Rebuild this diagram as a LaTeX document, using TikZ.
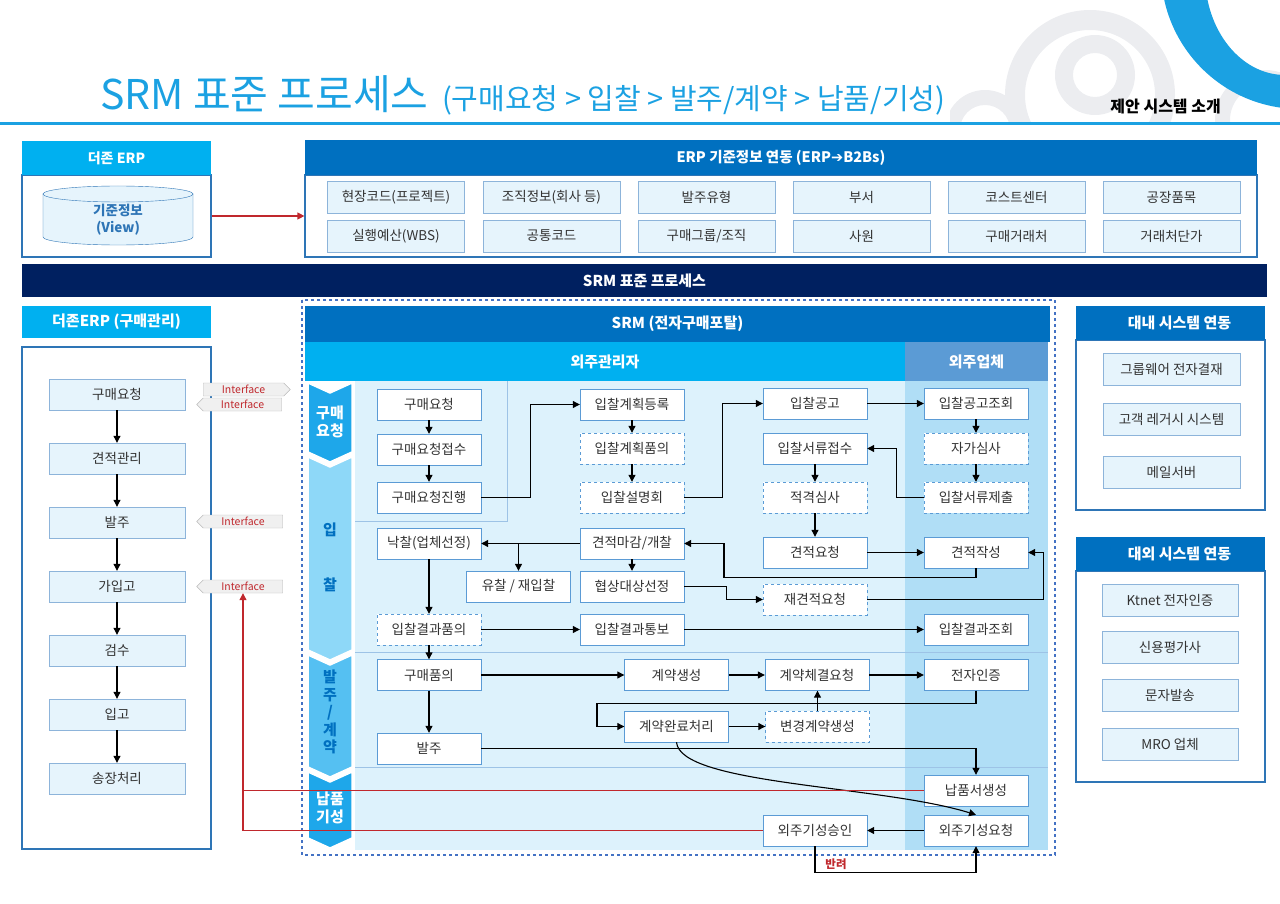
\documentclass[tikz,border=0pt]{standalone}
\usepackage{fontspec}
\setmainfont{Noto Sans CJK KR}
\newfontfamily\symfont{DejaVu Sans}
\usepackage{xcolor}
\usetikzlibrary{arrows.meta,shapes.symbols}

\definecolor{cyanhead}{HTML}{00B0F0}
\definecolor{bluehead}{HTML}{0070C0}
\definecolor{navybar}{HTML}{002060}
\definecolor{itemfill}{HTML}{E6F4FC}
\definecolor{itemline}{HTML}{8DB4DA}
\definecolor{boxline}{HTML}{2E75B6}
\definecolor{procline}{HTML}{5B9BD5}
\definecolor{portalline}{HTML}{4472C4}
\definecolor{lanebg}{HTML}{DDF2FC}
\definecolor{vendorbg}{HTML}{B0DEF6}
\definecolor{vendorhead}{HTML}{5B9BD5}
\definecolor{sepline}{HTML}{9DC3E6}
\definecolor{titleblue}{HTML}{1BA1E2}
\definecolor{linkred}{HTML}{C0282D}
\definecolor{textgray}{HTML}{333333}
\definecolor{stageA}{HTML}{1EA7EA}
\definecolor{stageB}{HTML}{8ED8F8}
\definecolor{stageC}{HTML}{55C0F2}
\definecolor{decogray}{HTML}{ECEDF0}

\begin{document}
\begin{tikzpicture}[x=1pt,y=-1pt,
    head/.style={inner sep=0, text=white, font=\bfseries\fontsize{14}{16}\selectfont},
    frame/.style={draw=boxline, line width=1.2pt, fill=white, inner sep=0},
    item/.style={draw=itemline, fill=itemfill, minimum width=137, minimum height=32, inner sep=0, text=textgray, font=\fontsize{13.5}{15}\selectfont},
    proc/.style={draw=procline, fill=white, minimum width=104, minimum height=31, inner sep=0, text=textgray, font=\fontsize{13.5}{15}\selectfont},
    procd/.style={proc, dashed},
    flow/.style={-{Triangle[length=7pt,width=7pt]}, line width=1.1pt},
    redline/.style={linkred, line width=1.2pt},
    redflow/.style={redline, -{Triangle[length=7pt,width=7pt]}},
    tag/.style={signal, draw=gray!55, fill=gray!12, minimum width=86, minimum height=13, inner sep=0, text=linkred, font=\fontsize{10.5}{11}\selectfont},
    stage/.style={font=\bfseries\fontsize{15}{17.5}\selectfont, align=center, inner sep=0}]
    % Page size
    \useasboundingbox (0,0) rectangle (1280,904);

    % Corner decoration
    \begin{scope}
        \clip (950,0) rectangle (1280,122);
        \fill[decogray, even odd rule] (1090,95) circle (85) (1090,95) circle (65);
        \fill[decogray, even odd rule] (1095,75) circle (40) (1095,75) circle (22);
        \fill[decogray, even odd rule] (1265,120) circle (50) (1265,120) circle (35);
        \fill[decogray, even odd rule] (985,130) circle (40) (985,130) circle (25);
        \fill[titleblue, even odd rule] (1300,-30) circle (139)
            (1285,-25) ellipse [x radius=80, y radius=100];
    \end{scope}

    % Title
    \node[anchor=base west, text=titleblue, font=\fontsize{41}{43}\selectfont, inner sep=0] (title) at (100,110) {SRM 표준 프로세스};
    \node[anchor=base west, text=titleblue, font=\fontsize{29}{31}\selectfont, inner sep=0] (subtitle) at ([xshift=13pt]title.base east) {(구매요청 > 입찰 > 발주/계약 > 납품/기성)};
    \node[anchor=base east, font=\bfseries\fontsize{16}{18}\selectfont, inner sep=0] (intro) at (1221,113) {제안 시스템 소개};
    \draw[titleblue, line width=3pt] (0,124) -- (1280,124);

    % ERP master data
    \node[frame, minimum width=189, minimum height=82] (erpbox) at (116.5,216) {};
    \node[head, fill=cyanhead, minimum width=189, minimum height=34] (erphead) at (116.5,158) {더존 ERP};
    \fill[itemfill] (43,194) -- (43,237) arc[start angle=180, end angle=0, x radius=75, y radius=8] -- (193,194) -- cycle;
    \draw[boxline] (43,194) -- (43,237) arc[start angle=180, end angle=0, x radius=75, y radius=8] -- (193,194);
    \draw[boxline, fill=itemfill] (118,194) ellipse [x radius=75, y radius=8];
    \node[text=boxline, font=\bfseries\fontsize{13.5}{17}\selectfont, align=center] (basis) at (118,220) {기준정보\\(View)};

    \node[frame, minimum width=952, minimum height=82] (infobox) at (781,216) {};
    \node[head, fill=bluehead, minimum width=952, minimum height=35, font=\bfseries\fontsize{14.5}{16}\selectfont] (infohead) at (781,157.5) {ERP 기준정보 연동 (ERP{\symfont ➔}B2Bs)};
    \node[item] (site) at (396,197) {현장코드(프로젝트)};
    \node[item] (org) at (551.5,197) {조직정보(회사 등)};
    \node[item] (potype) at (706.5,197) {발주유형};
    \node[item] (dept) at (861.5,197) {부서};
    \node[item] (cost) at (1016.5,197) {코스트센터};
    \node[item] (plant) at (1171.5,197) {공장품목};
    \node[item] (wbs) at (396,236) {실행예산(WBS)};
    \node[item] (code) at (551.5,236) {공통코드};
    \node[item] (group) at (706.5,236) {구매그룹/조직};
    \node[item] (staff) at (861.5,236) {사원};
    \node[item] (vendor) at (1016.5,236) {구매거래처};
    \node[item] (price) at (1171.5,236) {거래처단가};
    \draw[redflow] (erpbox.east) -- (infobox.west);

    % Process bar
    \node[head, fill=navybar, minimum width=1245, minimum height=33, font=\bfseries\fontsize{15}{17}\selectfont] (srmbar) at (644.5,280.5) {SRM 표준 프로세스};

    % Purchase management (ERP)
    \node[frame, minimum width=189, minimum height=502] (buybox) at (116.5,598) {};
    \node[head, fill=cyanhead, minimum width=189, minimum height=32, font=\bfseries\fontsize{15}{17}\selectfont] (buyhead) at (116.5,322) {더존ERP (구매관리)};
    \node[item, minimum width=136, minimum height=31] (b1) at (117,394.5) {구매요청};
    \node[item, minimum width=136, minimum height=31] (b2) at (117,458.5) {견적관리};
    \node[item, minimum width=136, minimum height=31] (b3) at (117,522.5) {발주};
    \node[item, minimum width=136, minimum height=31] (b4) at (117,586.5) {가입고};
    \node[item, minimum width=136, minimum height=31] (b5) at (117,650.5) {검수};
    \node[item, minimum width=136, minimum height=31] (b6) at (117,714.5) {입고};
    \node[item, minimum width=136, minimum height=31] (b7) at (117,778.5) {송장처리};
    \draw[flow] (b1) -- (b2);
    \draw[flow] (b2) -- (b3);
    \draw[flow] (b3) -- (b4);
    \draw[flow] (b4) -- (b5);
    \draw[flow] (b5) -- (b6);
    \draw[flow] (b6) -- (b7);

    % Interface tags
    \node[tag, signal to=east, minimum width=87] (if1) at (243.5,389.5) {Interface};
    \node[tag, signal to=west, minimum width=85] (if2) at (242.5,404.5) {Interface};
    \node[tag, signal to=west] (if3) at (243,521.5) {Interface};
    \node[tag, signal to=west] (if4) at (243,586.5) {Interface};

    % SRM portal frame and lanes
    \draw[portalline, dashed, line width=1.5pt] (302,300) rectangle (1055,855);
    \node[head, fill=bluehead, minimum width=745, minimum height=36, font=\bfseries\fontsize{15}{17}\selectfont] (srmhead) at (677.5,324) {SRM (전자구매포탈)};
    \node[head, fill=cyanhead, minimum width=600, minimum height=39, font=\bfseries\fontsize{15}{17}\selectfont] (mgrhead) at (605,361.5) {외주관리자};
    \node[head, fill=vendorhead, minimum width=143, minimum height=39, font=\bfseries\fontsize{15}{17}\selectfont] (venhead) at (976.5,361.5) {외주업체};
    \fill[lanebg] (355,381) rectangle (905,850);
    \fill[vendorbg] (905,381) rectangle (1048,850);
    \draw[sepline] (355,521) -- (507,521) -- (507,381);
    \draw[sepline] (355,652) -- (1048,652);
    \draw[sepline] (355,767) -- (1048,767);

    % Stage chevrons
    \foreach \ytop/\ybot/\col in {383/452/stageA, 457/650/stageB, 655/767/stageC, 772/838/stageA}
        \fill[\col, draw=white, line width=1.5pt] (308,\ytop) -- (330,\ytop+10) -- (352,\ytop)
            -- (352,\ybot) -- (330,\ybot+10) -- (308,\ybot) -- cycle;
    \node[stage, text=white] (stbuy) at (330,422) {구매\\요청};
    \node[stage, text=bluehead] (stbidA) at (330,530) {입};
    \node[stage, text=bluehead] (stbidB) at (330,585) {찰};
    \node[stage, text=bluehead] (stpo) at (330,712) {발\\주\\/\\계\\약};
    \node[stage, text=white] (stdlv) at (330,808) {납품\\기성};

    % Manager side
    \node[proc] (pr1) at (429,404.5) {구매요청};
    \node[proc] (pr2) at (429,449.5) {구매요청접수};
    \node[proc] (pr3) at (429,497.5) {구매요청진행};
    \node[proc] (win) at (429,543.5) {낙찰(업체선정)};
    \node[procd] (resapv) at (429,629.5) {입찰결과품의};
    \node[proc] (buyapv) at (429,675) {구매품의};
    \node[proc] (po) at (429,748.5) {발주};
    \node[proc] (bp1) at (632,404.5) {입찰계획등록};
    \node[procd] (bp2) at (632,448.5) {입찰계획품의};
    \node[procd] (bp3) at (632,497.5) {입찰설명회};
    \node[proc] (open) at (632,543.5) {견적마감/개찰};
    \node[proc] (nego) at (632,586.5) {협상대상선정};
    \node[proc] (resnote) at (632,629.5) {입찰결과통보};
    \node[proc] (fail) at (518.5,586.5) {유찰 / 재입찰};
    \node[proc] (ann) at (815,403.5) {입찰공고};
    \node[proc] (doc) at (815,448.5) {입찰서류접수};
    \node[procd] (qual) at (815,497.5) {적격심사};
    \node[proc] (rfq) at (815,552.5) {견적요청};
    \node[procd] (rerfq) at (815,599.5) {재견적요청};
    \node[proc] (cgen) at (676.5,675) {계약생성};
    \node[proc] (creq) at (817,675) {계약체결요청};
    \node[proc] (cdone) at (676.5,726.5) {계약완료처리};
    \node[procd] (cchg) at (817.5,726.5) {변경계약생성};
    \node[proc] (aprv) at (815,830.5) {외주기성승인};

    % Vendor side
    \node[proc] (vann) at (976,403.5) {입찰공고조회};
    \node[procd] (self) at (976,448.5) {자가심사};
    \node[procd] (vdoc) at (976,497.5) {입찰서류제출};
    \node[proc] (quote) at (976,552.5) {견적작성};
    \node[proc] (vres) at (976,629.5) {입찰결과조회};
    \node[proc] (cert) at (976,675) {전자인증};
    \node[proc] (dlv) at (976,790.5) {납품서생성};
    \node[proc] (vreq) at (976,830.5) {외주기성요청};

    % Request and bidding flow
    \draw[flow] (pr1) -- (pr2);
    \draw[flow] (pr2) -- (pr3);
    \draw[flow] (pr3.east) -- ++(49,0) |- (bp1.west);
    \draw[flow] (bp1) -- (bp2);
    \draw[flow] (bp2) -- (bp3);
    \draw[flow] (bp3.east) -- ++(38,0) |- (ann.west);
    \draw[flow] (ann) -- (vann);
    \draw[flow] (vann) -- (self);
    \draw[flow] (self) -- (vdoc);
    \draw[flow] (vdoc.west) -- ++(-27,0) |- (doc.east);
    \draw[flow] (doc) -- (qual);
    \draw[flow] (qual) -- (rfq);
    \draw[flow] (rfq) -- (quote);
    \draw[flow] (quote.south) -- ++(0,9) -- ++(-252,0) |- (open.east);
    \draw[flow] (open) -- (win);
    \draw[flow] (open.west -| fail.north) -- (fail.north);
    \draw[flow] (open) -- (nego);
    \draw[flow] (nego.east) -- ++(42,0) |- (rerfq.west);
    \draw[flow] (rerfq.east) -- ++(176,0) |- (quote.east);
    \draw[flow] (win) -- (resapv);
    \draw[flow] (resapv) -- (resnote);
    \draw[flow] (resnote) -- (vres);

    % Contract flow
    \draw[flow] (resapv) -- (buyapv);
    \draw[flow] (buyapv) -- (cgen);
    \draw[flow] (buyapv) -- (po);
    \draw[flow] (cgen) -- (creq);
    \draw[flow] (creq) -- (cert);
    \draw[flow] (cert.south) -- ++(0,13) -- ++(-379,0) |- (cdone.west);
    \draw[flow] (cdone) -- (cchg);
    \draw[flow] (cchg.north) -- (cchg.north |- creq.south);

    % Delivery flow
    \draw[flow] (po.east) -| (dlv.north);
    \draw[flow] (cdone.south) .. controls (680,785) and (880,785) .. (vreq.north);
    \draw[flow] (vreq) -- (aprv);
    \draw[flow] (aprv.south) -- ++(0,26) -| (vreq.south);
    \node[text=linkred, font=\bfseries\fontsize{11.5}{12}\selectfont] (reject) at (836,864) {반려};

    % Links back to ERP
    \draw[redline] (dlv.west) -- (dlv.west -| if4.south);
    \draw[redflow] (aprv.west) -| (if4.south);

    % Internal systems
    \node[frame, minimum width=189, minimum height=170] (inbox) at (1170.5,425) {};
    \node[head, fill=bluehead, minimum width=189, minimum height=34, font=\bfseries\fontsize{15}{17}\selectfont] (inhead) at (1170.5,323) {\hspace{18pt}대내 시스템 연동};
    \node[item] (gw) at (1171.5,369) {그룹웨어 전자결재};
    \node[item] (legacy) at (1171.5,419) {고객 레거시 시스템};
    \node[item] (mail) at (1171.5,472) {메일서버};

    % External systems
    \node[frame, minimum width=189, minimum height=211] (outbox) at (1170.5,676.5) {};
    \node[head, fill=bluehead, minimum width=189, minimum height=34, font=\bfseries\fontsize{15}{17}\selectfont] (outhead) at (1170.5,554) {\hspace{18pt}대외 시스템 연동};
    \node[item, minimum width=136] (ktnet) at (1170,600) {Ktnet 전자인증};
    \node[item, minimum width=136] (credit) at (1170,647) {신용평가사};
    \node[item, minimum width=136] (sms) at (1170,695) {문자발송};
    \node[item, minimum width=136] (mro) at (1170,744) {MRO 업체};
\end{tikzpicture}
\end{document}
